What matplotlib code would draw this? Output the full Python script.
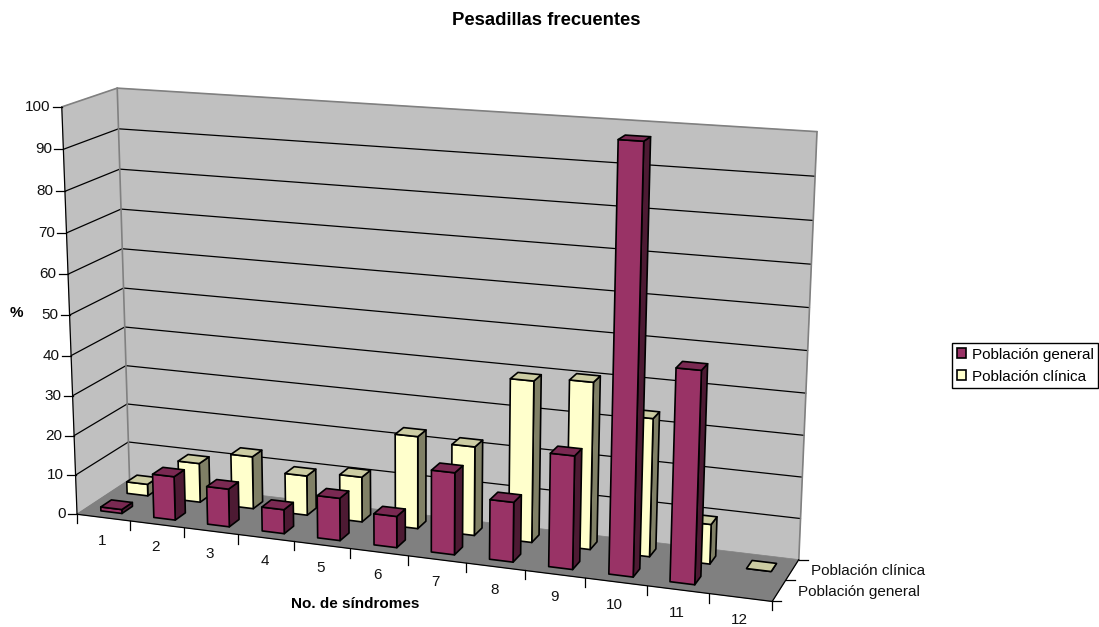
import numpy as np
import matplotlib
matplotlib.use('Agg')
import matplotlib.pyplot as plt
from matplotlib.patches import Polygon, Patch

plt.rcParams['font.family'] = ['Liberation Sans', 'DejaVu Sans']

categories = ['1', '2', '3', '4', '5', '6', '7', '8', '9', '10', '11', '12']
series_names = ['Población general', 'Población clínica']
general = [1, 11, 9.5, 6, 10.5, 7.7, 20, 14.5, 27.2, 100, 50, None]
clinica = [3, 10, 13.3, 10, 11.3, 23, 22, 39.5, 40.6, 33.4, 9.6, 0]
y_ticks = list(range(0, 101, 10))

WALL = '#c0c0c0'
FLOOR = '#808080'
colors = [('#993366', '#7a2952', '#4d1a33'), ('#ffffcc', '#cccca3', '#808066')]
FS = 11

# Corners of the chart box: (category, depth, value) -> pixel position
corners = [
    ((0, 0, 0), (77.3, 514)),
    ((0, 1, 0), (129.3, 480)),
    ((12, 0, 0), (772, 602)),
    ((12, 1, 0), (799, 559)),
    ((12, 1, 100), (817, 131.7)),
    ((0, 1, 100), (117.3, 88.3)),
    ((0, 0, 100), (61.7, 106.7)),
]


# Fit the perspective matrix from the box corners
def fit_projection(pairs):
    rows = []
    for (x, d, v), (px, py) in pairs:
        p = [x, d, v, 1]
        rows.append(p + [0, 0, 0, 0] + [-px*c for c in p])
        rows.append([0, 0, 0, 0] + p + [-py*c for c in p])
    _, _, vt = np.linalg.svd(np.array(rows, dtype=float))
    return vt[-1].reshape(3, 4)


P = fit_projection(corners)


def proj(x, d, v):
    q = P @ np.array([x, d, v, 1.0])
    return q[0]/q[2], q[1]/q[2]


fig = plt.figure(figsize=(10.99, 6.27), dpi=100)
ax = fig.add_axes([0, 0, 1, 1])
ax.set_xlim(0, 1099)
ax.set_ylim(627, 0)
ax.axis('off')


def face(pts, color, ec='black', lw=1.2, z=2):
    ax.add_patch(Polygon([proj(*p) for p in pts], closed=True, facecolor=color,
                         edgecolor=ec, linewidth=lw, joinstyle='round', zorder=z))


def line(a, b, color='black', lw=0.9, z=2):
    xa, ya = proj(*a)
    xb, yb = proj(*b)
    ax.plot([xa, xb], [ya, yb], color=color, lw=lw, zorder=z, solid_capstyle='round')


n = len(categories)
top = y_ticks[-1]

# Walls and floor
face([(0, 0, 0), (0, 1, 0), (0, 1, top), (0, 0, top)], WALL, ec=WALL, lw=0.5)
face([(0, 1, 0), (n, 1, 0), (n, 1, top), (0, 1, top)], WALL, ec=WALL, lw=0.5)
face([(0, 0, 0), (n, 0, 0), (n, 1, 0), (0, 1, 0)], FLOOR, ec=FLOOR, lw=0.5)

# Grid lines on the walls
for v in y_ticks[1:-1]:
    line((0, 0, v), (0, 1, v))
    line((0, 1, v), (n, 1, v))

# Wall borders
line((0, 1, 0), (0, 1, top), color=FLOOR, lw=1.2)
line((0, 1, top), (n, 1, top), color=FLOOR, lw=1.2)
line((0, 0, top), (0, 1, top), color=FLOOR, lw=1.2)
line((n, 1, 0), (n, 1, top), color=FLOOR, lw=1.2)
line((0, 0, 0), (0, 1, 0), color=FLOOR, lw=1.0)

# Axis lines
line((0, 0, 0), (0, 0, top))
line((0, 0, 0), (n, 0, 0))
line((n, 0, 0), (n, 1, 0))

# Back row first, then left to right, so nearer bars cover the others
for k, values in reversed(list(enumerate([general, clinica]))):
    front, upper, side = colors[k]
    d0, d1 = (k + 0.3)/2, (k + 0.7)/2
    for i, val in enumerate(values):
        if val is None:
            continue
        x0, x1 = i + 0.3, i + 0.7
        face([(x1, d0, 0), (x1, d1, 0), (x1, d1, val), (x1, d0, val)], side)
        face([(x0, d0, 0), (x1, d0, 0), (x1, d0, val), (x0, d0, val)], front)
        face([(x0, d0, val), (x1, d0, val), (x1, d1, val), (x0, d1, val)], upper)

# Ticks and tick labels
for v in y_ticks:
    px, py = proj(0, 0, v)
    ax.plot([px - 9, px], [py, py], color='black', lw=0.9)
    ax.text(px - 11.5, py, str(v), ha='right', va='center', fontsize=FS, color='#111111')

for i in range(n + 1):
    px, py = proj(i, 0, 0)
    ax.plot([px, px], [py, py + 9], color='black', lw=0.9)

for i, name in enumerate(categories):
    px, py = proj(i + 0.5, 0, 0)
    ax.text(px - 1, py + 23, name, ha='center', va='center', fontsize=FS, color='#111111')

for d in (0, 0.5, 1):
    px, py = proj(n, d, 0)
    ax.plot([px, px + 9], [py, py], color='black', lw=0.9)

for d, name in zip((0.25, 0.75), series_names):
    px, py = proj(n, d, 0)
    ax.text(px + 19, py + 1, name, ha='left', va='center', fontsize=FS, color='#111111')

# Titles
ax.text(546, 20.5, 'Pesadillas frecuentes', ha='center', va='center',
        fontsize=13.3, fontweight='bold')
ax.text(16, 313, '%', ha='center', va='center', fontsize=FS, fontweight='bold')
ax.text(355, 604, 'No. de síndromes', ha='center', va='center',
        fontsize=FS, fontweight='bold')

handles = [Patch(facecolor=colors[k][0], edgecolor='black', linewidth=1.2, label=series_names[k])
           for k in range(2)]
ax.legend(handles=handles, loc='upper right', bbox_to_anchor=(1098, 343),
          bbox_transform=ax.transData, fontsize=FS, frameon=True, fancybox=False,
          framealpha=1, edgecolor='black', handlelength=0.6, handleheight=0.6,
          handletextpad=0.35, labelspacing=0.52, borderpad=0.3, borderaxespad=0)

fig.savefig('out.png', dpi=100)
